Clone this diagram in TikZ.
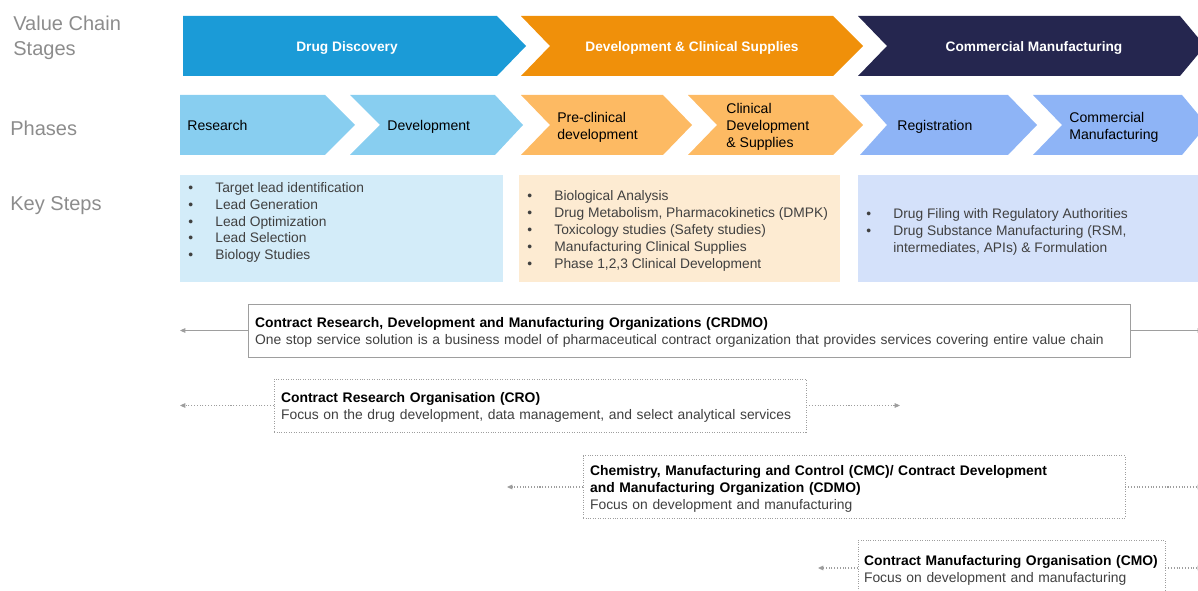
\documentclass[tikz,border=0pt]{standalone}
\usepackage{fontspec}
\setmainfont{Liberation Sans}
\usetikzlibrary{
  arrows.meta,  % small Triangle tips on the service lines
  positioning   % relative placement
}
\definecolor{stageblue}{RGB}{27,155,215}
\definecolor{stageorange}{RGB}{240,144,10}
\definecolor{stagenavy}{RGB}{37,38,79}
\definecolor{phaseblue}{RGB}{136,206,240}
\definecolor{phaseorange}{RGB}{253,186,99}
\definecolor{phaseperi}{RGB}{142,180,246}
\definecolor{keyblue}{RGB}{211,236,249}
\definecolor{keyorange}{RGB}{253,235,210}
\definecolor{keyperi}{RGB}{212,225,250}
\definecolor{bodygray}{RGB}{64,64,64}
\definecolor{labelgray}{RGB}{140,140,140}
\definecolor{linegray}{RGB}{158,158,158}

\begin{document}
\begin{tikzpicture}[x=0.02cm, y=-0.02cm, % one unit = one pixel of the reference, y runs downwards
  >={Triangle[length=3pt,width=2.6pt]},
  rowlabel/.style={anchor=west, align=left, text=labelgray, inner sep=0pt, font=\fontsize{11.4}{14}\selectfont},
  stagetxt/.style={text=white, inner sep=0pt, font=\bfseries\fontsize{7.8}{9.4}\selectfont},
  phasetxt/.style={anchor=west, align=left, inner sep=0pt, font=\fontsize{8}{9.6}\selectfont},
  steptxt/.style={anchor=west, align=left, text=bodygray, inner sep=0pt, font=\fontsize{7.85}{9.6}\selectfont},
  svcbox/.style={draw=linegray, fill=white, align=left, inner xsep=0.14cm, font=\fontsize{7.9}{9.6}\selectfont},
  svcdotted/.style={svcbox, densely dotted},
  svcline/.style={draw=linegray, line width=0.6pt, ->}
]
  \useasboundingbox (0,0) rectangle (1198,591); % page = reference frame

  % ======= row labels =======
  \node[rowlabel] (lstage) at (13,38) {Value Chain\\Stages};
  \node[rowlabel] (lphase) at (10,128) {Phases};
  \node[rowlabel] (lsteps) at (10,205.5) {Key Steps};

  % ======= value chain stages (chevrons) =======
  \fill[stageblue] (183,16) -- (497,16) -- (526,46) -- (497,76) -- (183,76) -- cycle; % flat left end
  \fill[stageorange] (521,16) -- (833,16) -- (863,46) -- (833,76) -- (521,76) -- (550,46) -- cycle;
  \fill[stagenavy] (858,16) -- (1180,16) -- (1205,46) -- (1180,76) -- (858,76) -- (887,46) -- cycle; % runs off the right edge
  \node[stagetxt] (dd) at (347,48) {Drug Discovery};
  \node[stagetxt] (dcs) at (692,48) {Development \& Clinical Supplies};
  \node[stagetxt] (cm) at (1034,48) {Commercial Manufacturing};

  % ======= phases (chevrons) =======
  \fill[phaseblue] (180,95) -- (325,95) -- (355,125) -- (325,155) -- (180,155) -- cycle;
  \fill[phaseblue] (350,95) -- (495,95) -- (523,125) -- (495,155) -- (350,155) -- (380,125) -- cycle;
  \fill[phaseorange] (521,95) -- (663,95) -- (692,125) -- (663,155) -- (521,155) -- (550,125) -- cycle;
  \fill[phaseorange] (688,95) -- (833,95) -- (863,125) -- (833,155) -- (688,155) -- (717,125) -- cycle;
  \fill[phaseperi] (860,95) -- (1008,95) -- (1037,125) -- (1008,155) -- (860,155) -- (887,125) -- cycle;
  \fill[phaseperi] (1033,95) -- (1182,95) -- (1207,125) -- (1182,155) -- (1033,155) -- (1062,125) -- cycle;
  \node[phasetxt] (res) at (187,125) {Research};
  \node[phasetxt] (dev) at (387,127) {Development};
  \node[phasetxt] (pre) at (557,127.5) {Pre-clinical\\development};
  \node[phasetxt] (clin) at (726,127) {Clinical\\Development\\\& Supplies};
  \node[phasetxt] (reg) at (897,127) {Registration};
  \node[phasetxt] (cmf) at (1069,127.5) {Commercial\\Manufacturing};

  % ======= key steps =======
  \fill[keyblue] (180,175) rectangle (503,282);
  \fill[keyorange] (519,175) rectangle (840,282);
  \fill[keyperi] (858,175) rectangle (1198,282);
  \node[steptxt] (ks1) at (188,222.5) {%
    \makebox[0.54cm][l]{\textbullet}Target lead identification\\
    \makebox[0.54cm][l]{\textbullet}Lead Generation\\
    \makebox[0.54cm][l]{\textbullet}Lead Optimization\\
    \makebox[0.54cm][l]{\textbullet}Lead Selection\\
    \makebox[0.54cm][l]{\textbullet}Biology Studies};
  \node[steptxt] (ks2) at (527,231) {%
    \makebox[0.54cm][l]{\textbullet}Biological Analysis\\
    \makebox[0.54cm][l]{\textbullet}Drug Metabolism, Pharmacokinetics (DMPK)\\
    \makebox[0.54cm][l]{\textbullet}Toxicology studies (Safety studies)\\
    \makebox[0.54cm][l]{\textbullet}Manufacturing Clinical Supplies\\
    \makebox[0.54cm][l]{\textbullet}Phase 1,2,3 Clinical Development};
  \node[steptxt] (ks3) at (866,232) {%
    \makebox[0.54cm][l]{\textbullet}Drug Filing with Regulatory Authorities\\
    \makebox[0.54cm][l]{\textbullet}Drug Substance Manufacturing (RSM,\\
    \hspace*{0.54cm}intermediates, APIs) \& Formulation};

  % ======= service organisations =======
  \node[svcbox, text width=17.36cm, minimum height=1.06cm] (crdmo) at (689,330.5) {%
    \rule{0pt}{8.2pt}\textbf{Contract Research, Development and Manufacturing Organizations (CRDMO)}\\
    {\color{bodygray}One stop service solution is a business model of pharmaceutical contract organization that provides services covering entire value chain}};
  \node[svcdotted, text width=10.36cm, minimum height=1.06cm] (cro) at (540,405.5) {%
    \rule{0pt}{8.2pt}\textbf{Contract Research Organisation (CRO)}\\
    {\color{bodygray}Focus on the drug development, data management, and select analytical services}};
  \node[svcdotted, text width=10.56cm, minimum height=1.24cm] (cdmo) at (854,487) {%
    \rule{0pt}{8.2pt}\textbf{Chemistry, Manufacturing and Control (CMC)/ Contract Development}\\
    \textbf{and Manufacturing Organization (CDMO)}\\
    {\color{bodygray}Focus on development and manufacturing}};
  \node[svcdotted, text width=5.9cm, inner xsep=0.12cm, minimum height=1.12cm] (cmo) at (1011.5,568) {%
    \rule{0pt}{8.2pt}\textbf{Contract Manufacturing Organisation (CMO)}\\
    {\color{bodygray}Focus on development and manufacturing}};

  % free ends of the coverage lines
  \coordinate (crdmoL) at (180,330.5);
  \coordinate (crdmoR) at (1203,330.5);
  \coordinate (croL) at (180,405.5);
  \coordinate (croR) at (900,405.5);
  \coordinate (cdmoL) at (507,487);
  \coordinate (cdmoR) at (1203,487);
  \coordinate (cmoL) at (818,568);
  \coordinate (cmoR) at (1203,568);

  % coverage lines
  \draw[svcline] (crdmo.west) -- (crdmoL);
  \draw[svcline] (crdmo.east) -- (crdmoR);
  \draw[svcline, densely dotted] (cro.west) -- (croL);
  \draw[svcline, densely dotted] (cro.east) -- (croR);
  \draw[svcline, densely dotted] (cdmo.west) -- (cdmoL);
  \draw[svcline, densely dotted] (cdmo.east) -- (cdmoR);
  \draw[svcline, densely dotted] (cmo.west) -- (cmoL);
  \draw[svcline, densely dotted] (cmo.east) -- (cmoR);
\end{tikzpicture}
\end{document}
